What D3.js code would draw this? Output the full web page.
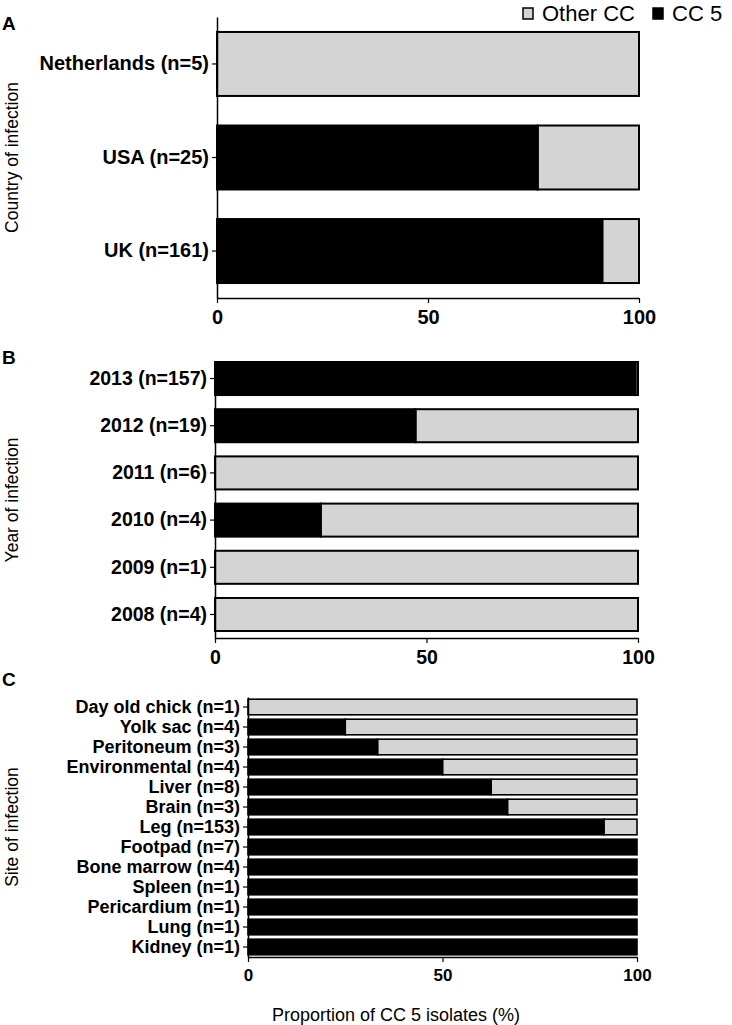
<!DOCTYPE html>
<html>
<head>
<meta charset="utf-8">
<script src="https://cdn.jsdelivr.net/npm/d3@7"></script>
<style>
  body { margin: 0; background: #fff; }
  svg { display: block; font-family: "Liberation Sans", Arial, sans-serif; }
</style>
</head>
<body>
<svg width="732" height="1025"></svg>
<script>
// data (% of isolates that are CC 5)
const countryLabels = ["Netherlands (n=5)", "USA (n=25)", "UK (n=161)"];
const countryCC5 = [0, 76, 91.3];

const yearLabels = ["2013 (n=157)", "2012 (n=19)", "2011 (n=6)", "2010 (n=4)", "2009 (n=1)", "2008 (n=4)"];
const yearCC5 = [99.4, 47.4, 0, 25, 0, 0];

const siteLabels = ["Day old chick (n=1)", "Yolk sac (n=4)", "Peritoneum (n=3)", "Environmental (n=4)",
  "Liver (n=8)", "Brain (n=3)", "Leg (n=153)", "Footpad (n=7)", "Bone marrow (n=4)",
  "Spleen (n=1)", "Pericardium (n=1)", "Lung (n=1)", "Kidney (n=1)"];
const siteCC5 = [0, 25, 33.3, 50, 62.5, 66.7, 91.5, 100, 100, 100, 100, 100, 100];

const xTicks = [0, 50, 100];
const seriesNames = ["Other CC", "CC 5"];
const seriesColors = ["#d4d4d4", "#000"];

const svg = d3.select("svg");

function drawPanel(opt) {
  const x = d3.scaleLinear().domain([0, 100]).range(opt.xr);
  const y = d3.scaleBand().domain(opt.labels).range(opt.yr)
    .paddingInner(opt.pin).paddingOuter(opt.pout).align(opt.align);

  const g = svg.append("g");
  const rows = opt.labels.map((l, i) => ({ label: l, v: opt.values[i] }));

  // gray part (other CC)
  g.selectAll(".other").data(rows.filter(d => d.v < 100)).enter().append("rect")
    .attr("x", d => x(d.v))
    .attr("y", d => y(d.label))
    .attr("width", d => x(100) - x(d.v))
    .attr("height", y.bandwidth())
    .attr("fill", seriesColors[0])
    .attr("stroke", "#000")
    .attr("stroke-width", opt.sw);

  // black part (CC 5)
  g.selectAll(".cc5").data(rows.filter(d => d.v > 0)).enter().append("rect")
    .attr("x", x(0))
    .attr("y", d => y(d.label))
    .attr("width", d => x(d.v) - x(0))
    .attr("height", y.bandwidth())
    .attr("fill", seriesColors[1])
    .attr("stroke", "#000")
    .attr("stroke-width", opt.sw);

  // axes
  const yAxis = g.append("g")
    .attr("transform", `translate(${opt.xr[0]},0)`)
    .call(d3.axisLeft(y).tickSize(5).tickSizeOuter(0).tickPadding(3));
  yAxis.selectAll("text").attr("font-size", opt.labelSize).attr("font-weight", "bold")
    .attr("fill", "#000").attr("font-family", "Liberation Sans, Arial, sans-serif");

  const xAxis = g.append("g")
    .attr("transform", `translate(0,${opt.yr[1]})`)
    .call(d3.axisBottom(x).tickValues(xTicks).tickSize(5).tickSizeOuter(0).tickPadding(7));
  xAxis.selectAll("text").attr("font-size", opt.tickSize).attr("font-weight", "bold")
    .attr("fill", "#000").attr("font-family", "Liberation Sans, Arial, sans-serif");

  [yAxis, xAxis].forEach(a => {
    a.select(".domain").attr("stroke", "#000").attr("stroke-width", 1.5);
    a.selectAll(".tick line").attr("stroke", "#000").attr("stroke-width", 1.2);
  });

  // y axis title
  const cy = (opt.yr[0] + opt.yr[1]) / 2;
  svg.append("text")
    .attr("transform", `translate(18,${cy}) rotate(-90)`)
    .attr("text-anchor", "middle")
    .attr("font-size", 17.5)
    .text(opt.title);

  // panel letter
  svg.append("text")
    .attr("x", 2).attr("y", opt.letterY)
    .attr("font-size", 19).attr("font-weight", "bold")
    .text(opt.letter);
}

drawPanel({ labels: countryLabels, values: countryCC5, xr: [217, 639], yr: [17, 298],
  pin: 0.316, pout: 0.16, align: 0.5, sw: 2, labelSize: 20, tickSize: 20,
  title: "Country of infection", letter: "A", letterY: 30 });

drawPanel({ labels: yearLabels, values: yearCC5, xr: [215, 638], yr: [362, 638],
  pin: 0.3, pout: 0.074, align: 0, sw: 2, labelSize: 19.5, tickSize: 19.5,
  title: "Year of infection", letter: "B", letterY: 364 });

drawPanel({ labels: siteLabels, values: siteCC5, xr: [248, 637], yr: [697, 957],
  pin: 0.22, pout: 0.11, align: 0.5, sw: 1.6, labelSize: 18, tickSize: 17,
  title: "Site of infection", letter: "C", letterY: 686 });

// x axis title
svg.append("text")
  .attr("x", 396).attr("y", 1021)
  .attr("text-anchor", "middle")
  .attr("font-size", 18)
  .text("Proportion of CC 5 isolates (%)");

// legend
const legendX = [523, 653];
const legend = svg.append("g").selectAll("g").data(seriesNames).enter().append("g")
  .attr("transform", (d, i) => `translate(${legendX[i]},8)`);
legend.append("rect")
  .attr("width", 10).attr("height", 11)
  .attr("fill", (d, i) => seriesColors[i])
  .attr("stroke", "#000").attr("stroke-width", 1.5);
legend.append("text")
  .attr("x", 19).attr("y", 13)
  .attr("font-size", 22)
  .text(d => d);
</script>
</body>
</html>
